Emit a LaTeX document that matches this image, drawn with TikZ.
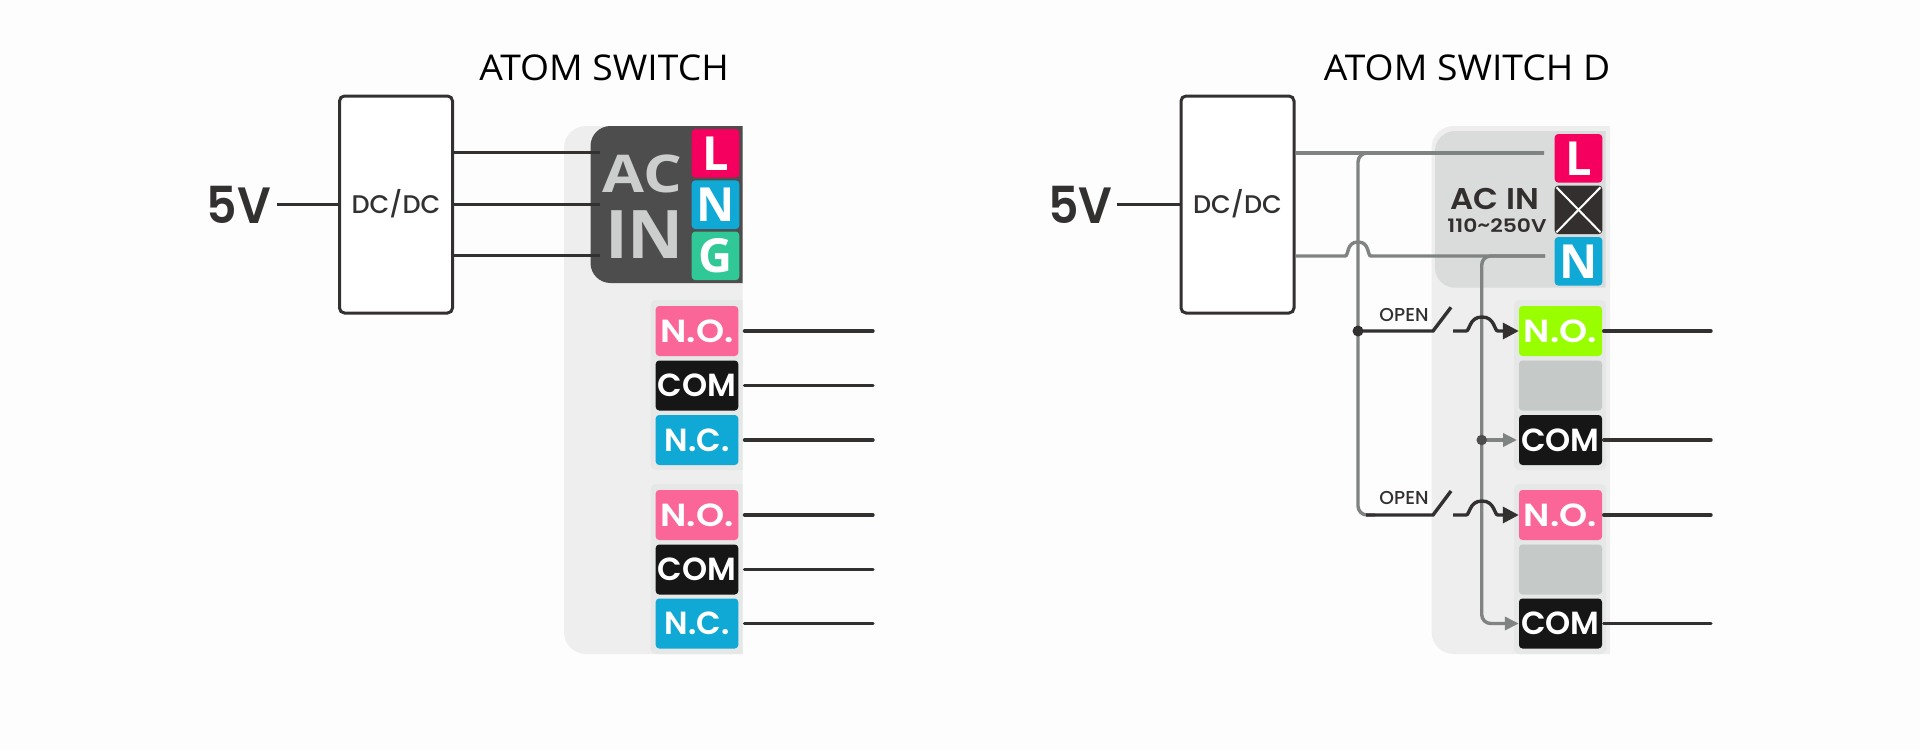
\documentclass[tikz,border=0pt]{standalone}
\usepackage{fontspec}
\usepackage{graphicx}
\setmainfont{Open Sans}
\newfontfamily\pop{Poppins}
\newfontfamily\popm{Poppins Medium}
\newfontfamily\popsb{Poppins SemiBold}
\newfontfamily\opn{Open Sans}
\usetikzlibrary{arrows.meta}
\definecolor{bgc}{HTML}{FDFDFD}
\definecolor{pnl}{HTML}{EEEEEE}
\definecolor{sub}{HTML}{E6E7E7}
\definecolor{dark}{HTML}{4D4D4D}
\definecolor{acp}{HTML}{D9DCDB}
\definecolor{wire}{HTML}{333030}
\definecolor{gwire}{HTML}{7F8382}
\definecolor{cL}{HTML}{F5005F}
\definecolor{cB}{HTML}{10A9D5}
\definecolor{cG}{HTML}{2FC896}
\definecolor{cP}{HTML}{FB6698}
\definecolor{cV}{HTML}{99FF00}
\definecolor{cK}{HTML}{161616}
\definecolor{cE}{HTML}{C5C9C7}
\definecolor{cX}{HTML}{332F2E}
\newcommand{\noLabel}{\scalebox{1.12}[1]{N.O.}}
\tikzset{
 term/.style={rounded corners=3.5pt,minimum width=82.6pt,minimum height=50pt,inner sep=0pt,text=white,
   font=\popsb\fontsize{32}{32}\selectfont,text height=22pt,text depth=0pt},
 acterm/.style={rounded corners=3.5pt,minimum width=47.6pt,minimum height=48.6pt,inner sep=0pt,text=white,
   font=\opn\bfseries\fontsize{47}{47}\selectfont,text height=33.5pt,text depth=0pt},
 wireb/.style={draw=wire,line width=3.4pt,line cap=round},
 wirethin/.style={draw=wire,line width=3.4pt},
 wireg/.style={draw=gwire,line width=3.4pt},
 conv/.style={draw=wire,line width=3pt,rounded corners=5pt,fill=white,minimum width=113pt,minimum height=217pt,inner sep=0pt,
   font=\popm\fontsize{25.5}{25.5}\selectfont,text=wire,text height=18pt,text depth=0pt},
 volt/.style={font=\popsb\fontsize{51}{51}\selectfont,text=wire,inner sep=0pt,text height=36pt,text depth=0pt},
 title/.style={font=\opn\fontsize{35.5}{35.5}\selectfont,text=black,inner sep=0pt,text height=25pt,text depth=0pt},
 opent/.style={font=\popm\fontsize{18.7}{18.7}\selectfont,text=wire,inner sep=0pt,text height=12.5pt,text depth=0pt},
 blob/.style={circle,inner sep=0pt,minimum size=11pt},
 gtip/.style={-{Triangle[length=14pt,width=13pt]}},
 ktip/.style={-{Triangle[length=16pt,width=16pt]}},
}
\begin{document}
\begin{tikzpicture}[x=1pt,y=-1pt]
\useasboundingbox (0,0) rectangle (1920,750);
\fill[bgc] (0,0) rectangle (1920,750);
% ---------- left device panels
\fill[pnl,rounded corners=22pt] (742.7,126) -- (564,126) -- (564,654) -- (742.7,654);
\fill[sub,rounded corners=5pt] (742.7,300) -- (650.7,300) -- (650.7,470) -- (742.7,470);
\fill[sub,rounded corners=5pt] (742.7,484) -- (650.7,484) -- (650.7,654) -- (742.7,654);
\fill[dark,rounded corners=20pt] (742.7,126) -- (590.5,126) -- (590.5,283) -- (742.7,283);
% ---------- right device panels
\fill[pnl,rounded corners=22pt] (1610,126) -- (1431.6,126) -- (1431.6,654) -- (1610,654);
\fill[sub,rounded corners=5pt] (1606,300) -- (1514,300) -- (1514,470) -- (1606,470) -- cycle;
\fill[sub,rounded corners=5pt] (1606,484) -- (1514,484) -- (1514,654) -- (1606,654) -- cycle;
\fill[acp,rounded corners=20pt] (1605.6,131) -- (1435,131) -- (1435,287.7) -- (1605.6,287.7);
% ---------- titles
\node[title] (t1) at (604,67.5) {\scalebox{1.05}[1]{ATOM SWITCH}};
\node[title] (t2) at (1467,67.5) {\scalebox{1.05}[1]{ATOM SWITCH D}};
% ---------- left: converter
\node[volt] (v1) at (239,205) {\scalebox{.93}[1]{5V}};
\node[conv] (dc1) at (396,204.5) {DC/DC};
\coordinate (a1) at (600,152.7);
\coordinate (a2) at (600,204.5);
\coordinate (a3) at (600,255.7);
\draw[wirethin,line width=3pt] (v1.east |- dc1.west) ++(6,0) coordinate (s1) -- (dc1.west);
\draw[wirethin] (dc1.east |- a1) -- (a1);
\draw[wirethin] (dc1.east |- a2) -- (a2);
\draw[wirethin] (dc1.east |- a3) -- (a3);
% ---------- left: AC IN
\node[inner sep=0pt,text=cE!90!white,text height=37pt,text depth=0pt] (ac) at (642.5,173.5) {\scalebox{1.17}[1]{\opn\bfseries\fontsize{52}{52}\selectfont AC}};
\node[inner sep=0pt,text=cE!90!white,text height=48pt,text depth=0pt] (in) at (644.5,234) {\scalebox{1.03}[1]{\opn\bfseries\fontsize{67}{67}\selectfont IN}};
\node[acterm,fill=cL] (L1) at (715.5,153.3) {L};
\node[acterm,fill=cB] (N1) at (715.5,204.7) {N};
\node[acterm,fill=cG] (G1) at (715.5,255.8) {G};
% ---------- left: relay terminals
\node[term,fill=cP] (no1) at (697,331) {\noLabel};
\node[term,fill=cK] (com1) at (697,385.5) {COM};
\node[term,fill=cB] (nc1) at (697,440) {N.C.};
\node[term,fill=cP] (no2) at (697,515) {\noLabel};
\node[term,fill=cK] (com2) at (697,569.5) {COM};
\node[term,fill=cB] (nc2) at (697,623.5) {N.C.};
\foreach \n/\y in {no1/331,com1/385.5,nc1/440,no2/515,com2/569.5,nc2/623.5}{
  \coordinate (e\n) at (873,\y);
  \draw[wireb] (\n.east) ++(6,0) -- (e\n);
}
% ---------- right: converter
\node[volt] (v2) at (1080.5,205) {\scalebox{.93}[1]{5V}};
\node[conv] (dc2) at (1237.5,204.5) {DC/DC};
\draw[wirethin,line width=3pt] (v2.east |- dc2.west) ++(4,0) coordinate (s2) -- (dc2.west);
% ---------- right: AC IN
\node[inner sep=0pt,text=cX,text height=21pt,text depth=0pt] (acin) at (1495,198.5) {\scalebox{1.08}[1]{\popsb\fontsize{30}{30}\selectfont AC IN}};
\node[inner sep=0pt,text=cX,text height=13pt,text depth=0pt] (rng) at (1497,226) {\scalebox{1.18}[1]{\popsb\fontsize{18.5}{18.5}\selectfont 110\raisebox{1pt}{\char`\~}250V}};
\node[acterm,fill=cL] (L2) at (1578.5,158.3) {L};
\node[acterm,fill=cX] (X2) at (1578.5,209.8) {};
\draw[white,line width=2pt] (X2.north west) ++(2,2) -- ([shift={(-2,-2)}]X2.south east);
\draw[white,line width=2pt] (X2.north east) ++(-2,2) -- ([shift={(2,-2)}]X2.south west);
\node[acterm,fill=cB] (N2) at (1578.5,261.3) {N};
% ---------- right: relay terminals
\node[term,fill=cV,minimum width=83pt] (no3) at (1560.5,331) {\noLabel};
\node[term,fill=cE,minimum width=83pt] (em1) at (1560.5,385.5) {};
\node[term,fill=cK,minimum width=83pt] (com3) at (1560.5,440) {COM};
\node[term,fill=cP,minimum width=83pt] (no4) at (1560.5,515) {\noLabel};
\node[term,fill=cE,minimum width=83pt] (em2) at (1560.5,569.5) {};
\node[term,fill=cK,minimum width=83pt] (com4) at (1560.5,623.5) {COM};
\foreach \n/\y in {no3/331,com3/440,no4/515,com4/623.5}{
  \coordinate (e\n) at (1711,\y);
  \draw[wireb] (\n.east) ++(1.5,0) -- (e\n);
}
% ---------- right: wiring
\coordinate (lw) at (1544,153);
\coordinate (nw) at (1545,256);
\coordinate (busL) at (1358,153);
\coordinate (busN) at (1481.7,256);
\coordinate (j1) at (1358,331);
\coordinate (sw1) at (1433,331);
\coordinate (bl1) at (1451,307.3);
\coordinate (sw2) at (1433,515);
\coordinate (bl2) at (1451,491);
\coordinate (j3) at (1481.7,440);
\draw[wireg] (dc2.east |- lw) -- (lw);
\draw[wireg,rounded corners=9pt] (lw) -- (busL) -- (1358,515) -- (1375,515);
% N wire with hop over the L bus
\draw[wireg] (dc2.east |- nw) -- (1345,256) .. controls (1349,256) and (1346,242) .. (1358,242) .. controls (1370,242) and (1367,256) .. (1371,256) -- (nw);
% N branch
\draw[wireg,rounded corners=9pt] (nw) -- (busN) -- (1481.7,623.5) -- (1505,623.5);
\draw[wireg,gtip] (1490,623.5) -- (com4.west);
\draw[wireg,gtip] (j3) -- (1517,440);
\node[blob,fill=dark,minimum size=10.5pt] (d3) at (j3) {};
% switches
\draw[wirethin] (1366,515) -- (sw2) -- (bl2);
\draw[wirethin] (j1) -- (sw1) -- (bl1);
\node[blob,fill=wire] (d1) at (j1) {};
\node[opent] (op1) at (1404,315.5) {OPEN};
\node[opent] (op2) at (1404,498) {OPEN};
\draw[wirethin,ktip] (1453,331) -- (1466,331) .. controls (1470,331) and (1469,317) .. (1482,317) .. controls (1495,317) and (1494,331) .. (1498,331) -- (no3.west);
\draw[wirethin,ktip] (1453,515) -- (1466,515) .. controls (1470,515) and (1469,501) .. (1482,501) .. controls (1495,501) and (1494,515) .. (1498,515) -- (no4.west);
\end{tikzpicture}
\end{document}
